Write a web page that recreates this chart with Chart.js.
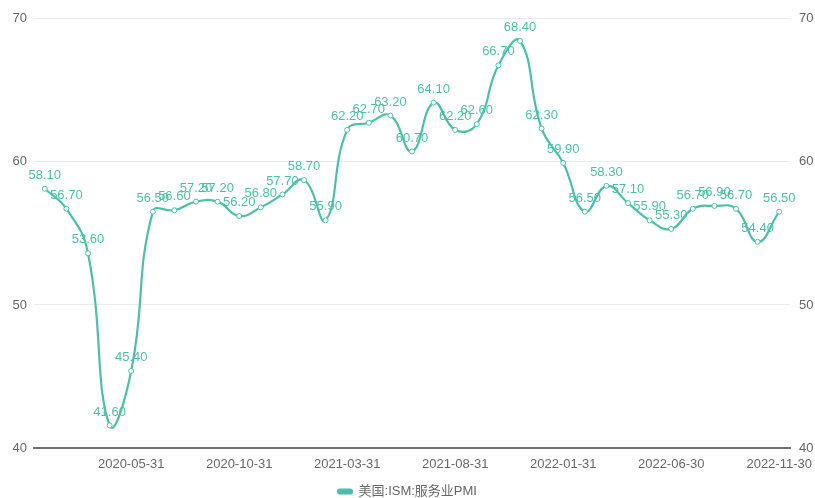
<!DOCTYPE html>
<html>
<head>
<meta charset="utf-8">
<script src="https://cdn.jsdelivr.net/npm/chart.js@4"></script>
<style>
  html, body { margin: 0; padding: 0; background: #fff; }
  #wrap { width: 815px; height: 498px; }
</style>
</head>
<body>
<div id="wrap"><canvas id="pmi"></canvas></div>
<script>
// months Jan 2020 .. Nov 2022 (month-end dates)
const months = [
    '2020-01-31', '2020-02-29', '2020-03-31', '2020-04-30', '2020-05-31', '2020-06-30',
    '2020-07-31', '2020-08-31', '2020-09-30', '2020-10-31', '2020-11-30', '2020-12-31',
    '2021-01-31', '2021-02-28', '2021-03-31', '2021-04-30', '2021-05-31', '2021-06-30',
    '2021-07-31', '2021-08-31', '2021-09-30', '2021-10-31', '2021-11-30', '2021-12-31',
    '2022-01-31', '2022-02-28', '2022-03-31', '2022-04-30', '2022-05-31', '2022-06-30',
    '2022-07-31', '2022-08-31', '2022-09-30', '2022-10-31', '2022-11-30'
];
const pmiValues = [
    58.1, 56.7, 53.6, 41.6, 45.4, 56.5, 56.6, 57.2, 57.2, 56.2, 56.8, 57.7,
    58.7, 55.9, 62.2, 62.7, 63.2, 60.7, 64.1, 62.2, 62.6, 66.7, 68.4, 62.3,
    59.9, 56.5, 58.3, 57.1, 55.9, 55.3, 56.7, 56.9, 56.7, 54.4, 56.5
];
const yTicks = [40, 50, 60, 70];
const seriesName = '美国:ISM:服务业PMI';

const teal = '#4dbfa9';
const fontFamily = '"Liberation Sans", "Noto Sans CJK SC", sans-serif';

// draws the value above every point
const valueLabels = {
    id: 'valueLabels',
    afterDatasetsDraw(chart) {
        const ctx = chart.ctx;
        const meta = chart.getDatasetMeta(0);
        ctx.save();
        ctx.font = '13px ' + fontFamily;
        ctx.fillStyle = teal;
        ctx.textAlign = 'center';
        ctx.textBaseline = 'bottom';
        meta.data.forEach((pt, i) => {
            ctx.fillText(pmiValues[i].toFixed(2), pt.x, pt.y - 7);
        });
        ctx.restore();
    }
};

// fixed axis widths, no extra padding from the labels
const fixWidth = w => s => { s.width = w; s.paddingTop = 0; s.paddingBottom = 0; };

new Chart(document.getElementById('pmi'), {
    type: 'line',
    data: {
        labels: months,
        datasets: [{
            label: seriesName,
            data: pmiValues,
            borderColor: teal,
            backgroundColor: teal,
            borderWidth: 2.2,
            tension: 0.45,
            pointRadius: 2.5,
            pointBorderWidth: 1,
            pointBackgroundColor: '#fff',
            pointBorderColor: teal,
            yAxisID: 'y'
        }]
    },
    options: {
        responsive: true,
        maintainAspectRatio: false,
        animation: false,
        layout: { padding: { top: 18, left: 0, right: 0, bottom: -10 } },
        scales: {
            x: {
                offset: true,
                grid: { display: false },
                border: { color: '#6e7079', width: 2 },
                // let the end labels hang over the side axes
                afterFit: s => { s.paddingLeft = 0; s.paddingRight = 0; },
                ticks: {
                    autoSkip: false,
                    maxRotation: 0,
                    color: '#666',
                    font: { size: 13, family: fontFamily },
                    padding: 0,
                    callback: (v, i) => (i % 5 === 4 ? months[i] : '')
                }
            },
            y: {
                position: 'left',
                min: 40, max: 70,
                afterBuildTicks: s => { s.ticks = yTicks.map(v => ({ value: v })); },
                afterFit: fixWidth(34),
                grid: { color: '#ececec', drawTicks: false },
                border: { display: false },
                ticks: { color: '#666', font: { size: 13, family: fontFamily }, padding: 7 }
            },
            y1: {
                position: 'right',
                min: 40, max: 70,
                afterBuildTicks: s => { s.ticks = yTicks.map(v => ({ value: v })); },
                afterFit: fixWidth(25),
                grid: { display: false, drawTicks: false },
                border: { display: false },
                ticks: { color: '#666', font: { size: 13, family: fontFamily }, padding: 9 }
            }
        },
        plugins: {
            legend: {
                position: 'bottom',
                labels: {
                    color: '#666',
                    font: { size: 13, family: fontFamily },
                    boxWidth: 14,
                    boxHeight: 4,
                    useBorderRadius: true,
                    borderRadius: 2,
                    padding: 13
                }
            },
            tooltip: { enabled: false }
        }
    },
    plugins: [valueLabels]
});
</script>
</body>
</html>
